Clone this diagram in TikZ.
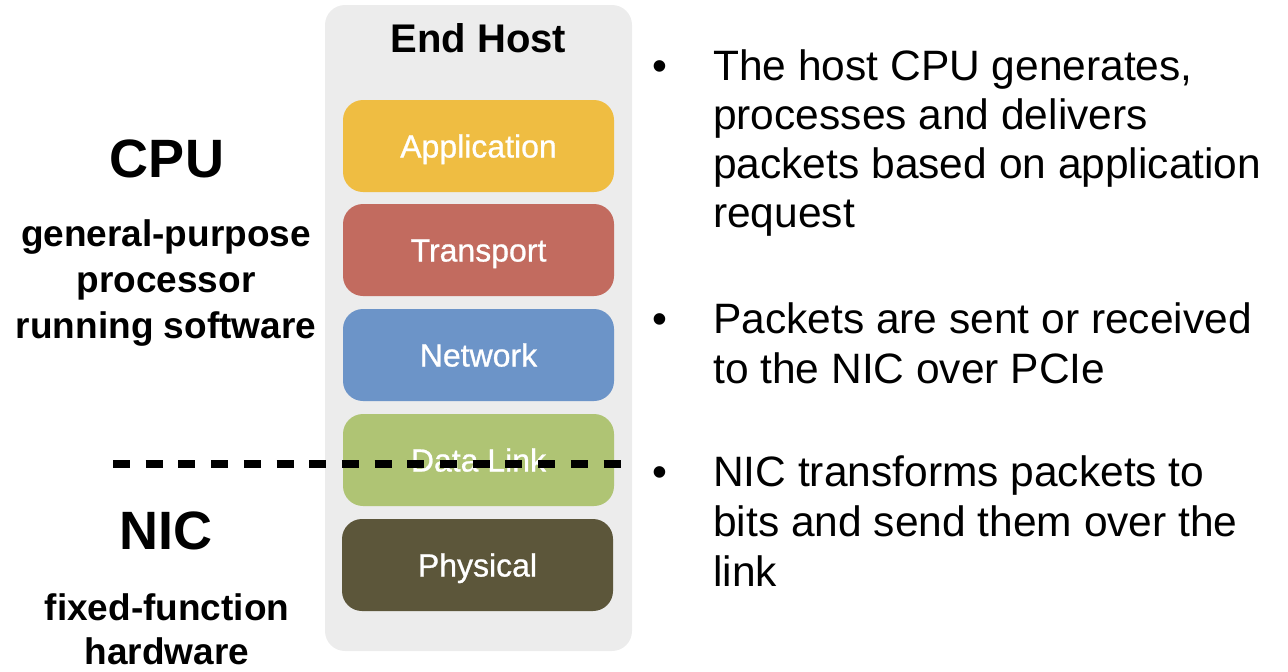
\documentclass[tikz,border=0pt]{standalone}
\usepackage{fontspec}
\setmainfont{Liberation Sans}
\newfontfamily\layerfont[FakeBold=0.8]{Liberation Sans}
\definecolor{hostbg}{HTML}{ECECEC}
\definecolor{appcol}{HTML}{EFBD42}
\definecolor{transcol}{HTML}{C26B5F}
\definecolor{netcol}{HTML}{6C94C8}
\definecolor{linkcol}{HTML}{AFC474}
\definecolor{physcol}{HTML}{5C563A}
\tikzset{
  layer/.style={rounded corners=20pt, minimum width=271pt, minimum height=92pt,
    inner sep=0pt, text height=23pt, text depth=0pt, text=white,
    font=\layerfont\fontsize{32}{38}\selectfont},
  bigtitle/.style={font=\bfseries\fontsize{54}{60}\selectfont, anchor=base, inner sep=0pt},
  subtitle/.style={font=\bfseries\fontsize{37}{46}\selectfont, anchor=base, inner sep=0pt},
  hosttitle/.style={font=\bfseries\fontsize{40}{48}\selectfont, anchor=base, inner sep=0pt},
  bullettext/.style={font=\fontsize{42.5}{50}\selectfont, anchor=base west, inner sep=0pt},
  bulletmark/.style={font=\fontsize{42.5}{50}\selectfont, anchor=base, inner sep=0pt},
  cutline/.style={line width=8.5pt, dash pattern=on 17pt off 15.7pt},
}
\begin{document}
\begin{tikzpicture}[x=1pt, y=-1pt]
\useasboundingbox (0,0) rectangle (1288,672);

% end host container
\node[fill=hostbg, rounded corners=20pt, minimum width=307pt, minimum height=646pt, inner sep=0pt]
  (host) at (478.5,328) {};
\node[hosttitle] (hostlabel) at (478.5,52.5) {End Host};

% protocol layers
\node[layer, fill=appcol]   (app)   at (478.5,146) {Application};
\node[layer, fill=transcol] (trans) at (478.5,250) {Transport};
\node[layer, fill=netcol]   (net)   at (478.5,355) {Network};
\node[layer, fill=linkcol]  (link)  at (478.5,460) {Data Link};
\node[layer, fill=physcol]  (phys)  at (477.5,565) {Physical};

% CPU / NIC boundary
\coordinate (cutL) at (113,464);
\coordinate (cutR) at (621,464);
\draw[cutline] (cutL) -- (cutR);

% left-hand labels
\node[bigtitle] (cpu) at (167,177) {CPU};
\node[subtitle] (cpu1) at (166,246) {general-purpose};
\node[subtitle] (cpu2) at (166,292) {processor};
\node[subtitle] (cpu3) at (166,338) {running software};

\node[bigtitle] (nic) at (166,549) {NIC};
\node[subtitle] (nic1) at (167,620) {fixed-function};
\node[subtitle] (nic2) at (167,664) {hardware};

% bullet points
\node[bulletmark] (b1) at (660,80) {•};
\node[bullettext] (b1a) at (713,80) {The host CPU generates,};
\node[bullettext] (b1b) at (713,129) {processes and delivers};
\node[bullettext] (b1c) at (713,178) {packets based on application};
\node[bullettext] (b1d) at (713,227) {request};

\node[bulletmark] (b2) at (660,333) {•};
\node[bullettext] (b2a) at (713,333) {Packets are sent or received};
\node[bullettext] (b2b) at (713,383) {to the NIC over PCIe};

\node[bulletmark] (b3) at (660,486) {•};
\node[bullettext] (b3a) at (713,486) {NIC transforms packets to};
\node[bullettext] (b3b) at (713,536) {bits and send them over the};
\node[bullettext] (b3c) at (713,586) {link};
\end{tikzpicture}
\end{document}
